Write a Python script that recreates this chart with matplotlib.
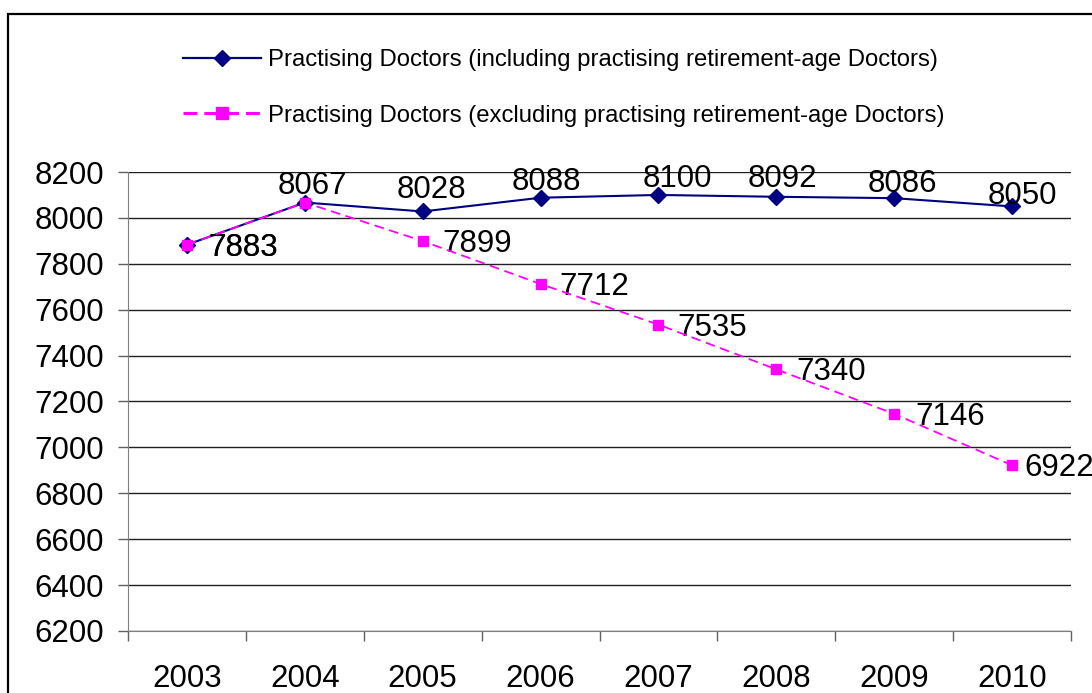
import matplotlib
matplotlib.use('Agg')
import matplotlib.pyplot as plt
from matplotlib.patches import Rectangle
from matplotlib.lines import Line2D

plt.rcParams['font.family'] = ['Liberation Sans', 'DejaVu Sans']
plt.rcParams['lines.scale_dashes'] = False

# data
years = ['2003', '2004', '2005', '2006', '2007', '2008', '2009', '2010']
incl_retired = [7883, 8067, 8028, 8088, 8100, 8092, 8086, 8050]
excl_retired = [7883, 8067, 7899, 7712, 7535, 7340, 7146, 6922]
label_incl = 'Practising Doctors (including practising retirement-age Doctors)'
label_excl = 'Practising Doctors (excluding practising retirement-age Doctors)'

# label offsets in pixels (hand placed like the original)
incl_offsets = [(21, -3), (8, 17), (9, 21), (6, 16), (19, 16), (6, 18), (8, 14), (10, 10)]
excl_offsets = [(21, -3), None, (20, -3), (19, -3), (19, -3), (20, -3), (21, -3), (12, -3)]

navy = '#000080'
magenta = '#FF00FF'
fs = 22.5

fig = plt.figure(figsize=(10.92, 6.93), dpi=100)
ax = fig.add_axes([0.1172, 0.0895, 0.8636, 0.6623])

x = list(range(len(years)))
ax.plot(x, incl_retired, color=navy, lw=1.5, marker='D', ms=8, zorder=3)
ax.plot(x, excl_retired, color=magenta, lw=1.3, ls=(0, (7, 4)), marker='s',
        ms=7.5, zorder=4)

for i, v in enumerate(incl_retired):
    dx, dy = incl_offsets[i]
    ha = 'left' if i == 0 else 'center'
    ax.annotate(str(v), (i, v), xytext=(dx, dy), textcoords='offset pixels',
                ha=ha, va='center', fontsize=fs)
for i, v in enumerate(excl_retired):
    if excl_offsets[i] is None:
        continue
    ax.annotate(str(v), (i, v), xytext=excl_offsets[i], textcoords='offset pixels',
                ha='left', va='center', fontsize=fs, annotation_clip=False)

ax.set_xlim(-0.5, 7.5)
ax.set_ylim(6200, 8200)
ax.set_yticks(range(6200, 8201, 200))
ax.yaxis.grid(True, color='#202020', lw=1)
ax.set_axisbelow(True)

ax.set_xticks([i - 0.5 for i in range(len(years) + 1)])
ax.set_xticklabels([])
ax.set_xticks(x, minor=True)
ax.set_xticklabels(years, minor=True)
ax.tick_params(axis='x', which='major', length=7, color='#606060', width=1)
ax.tick_params(axis='x', which='minor', length=0, pad=24, labelsize=fs)
ax.tick_params(axis='y', length=7, color='#606060', width=1, pad=10, labelsize=fs)

for s in ['top', 'right']:
    ax.spines[s].set_visible(False)
ax.spines['left'].set_color('#808080')
ax.spines['bottom'].set_color('#808080')

handles = [
    Line2D([], [], color=navy, lw=1.6, marker='D', ms=8),
    Line2D([], [], color=magenta, lw=2.2, ls=(0, (10, 5)), marker='s', ms=8),
]
fig.legend(handles, [label_incl, label_excl], loc='upper left',
           bbox_to_anchor=(183 / 1092, 1 - 49 / 693),
           frameon=False, fontsize=17.2, handlelength=3.27, handletextpad=0.29,
           labelspacing=1.41, borderpad=0, borderaxespad=0)

# outer chart frame (runs off the right and bottom of the image)
fig.patches.append(Rectangle((8 / 1092, -0.1), 1.2, 1 - 14 / 693 + 0.1,
                             transform=fig.transFigure, fill=False,
                             edgecolor='black', lw=1.6))

fig.savefig('out.png', dpi=100)
